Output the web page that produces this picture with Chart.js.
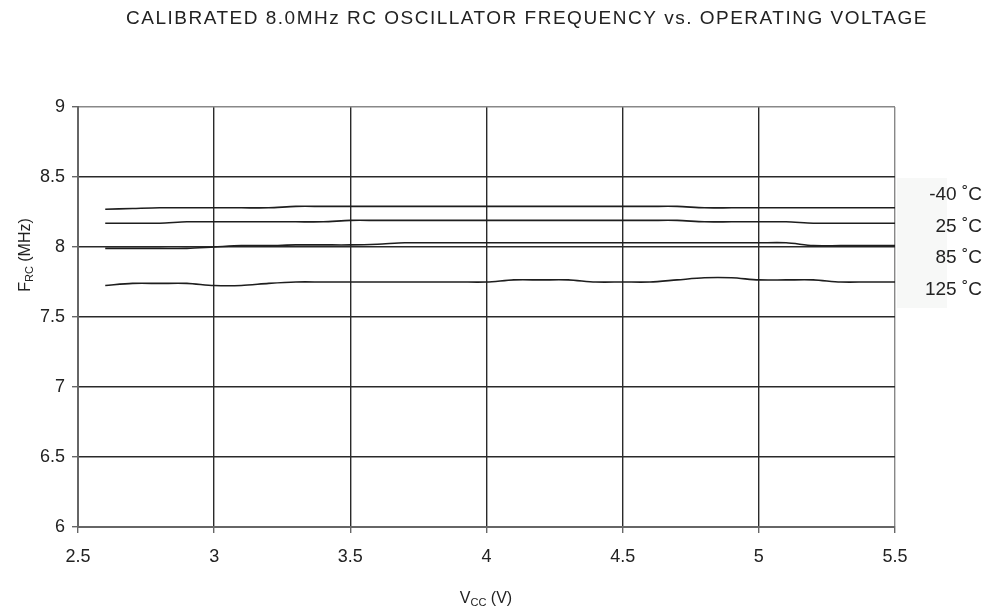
<!DOCTYPE html>
<html>
<head>
<meta charset="utf-8">
<script src="https://cdn.jsdelivr.net/npm/chart.js@4.4.0/dist/chart.umd.min.js"></script>
<style>
  html, body { margin: 0; padding: 0; background: #fff; }
  #wrap { width: 999px; height: 611px; position: relative; }
</style>
</head>
<body>
<div id="wrap"><canvas id="chart" width="999" height="611"></canvas></div>
<script>
// Supply voltage (V)
const voltages = [2.6, 2.7, 2.8, 2.9, 3.0, 3.1, 3.2, 3.3, 3.4, 3.5,
                  3.6, 3.7, 3.8, 3.9, 4.0, 4.1, 4.2, 4.3, 4.4, 4.5,
                  4.6, 4.7, 4.8, 4.9, 5.0, 5.1, 5.2, 5.3, 5.4, 5.5];

const tempLabels = ["-40 ˚C", "25 ˚C", "85 ˚C", "125 ˚C"];

// Frequency (MHz) per temperature
const freqM40 = [8.27, 8.275, 8.28, 8.28, 8.28, 8.28, 8.28, 8.29, 8.29, 8.29,
                 8.29, 8.29, 8.29, 8.29, 8.29, 8.29, 8.29, 8.29, 8.29, 8.29,
                 8.29, 8.29, 8.28, 8.28, 8.28, 8.28, 8.28, 8.28, 8.28, 8.28];
const freq25  = [8.17, 8.17, 8.17, 8.18, 8.18, 8.18, 8.18, 8.18, 8.18, 8.19,
                 8.19, 8.19, 8.19, 8.19, 8.19, 8.19, 8.19, 8.19, 8.19, 8.19,
                 8.19, 8.19, 8.18, 8.18, 8.18, 8.18, 8.17, 8.17, 8.17, 8.17];
const freq85  = [7.99, 7.99, 7.99, 7.99, 8.0, 8.01, 8.01, 8.015, 8.015, 8.015,
                 8.02, 8.03, 8.03, 8.03, 8.03, 8.03, 8.03, 8.03, 8.03, 8.03,
                 8.03, 8.03, 8.03, 8.03, 8.03, 8.03, 8.01, 8.01, 8.01, 8.01];
const freq125 = [7.725, 7.74, 7.74, 7.74, 7.725, 7.725, 7.74, 7.75, 7.75, 7.75,
                 7.75, 7.75, 7.75, 7.75, 7.75, 7.765, 7.765, 7.765, 7.75, 7.75,
                 7.75, 7.765, 7.78, 7.78, 7.765, 7.765, 7.765, 7.75, 7.75, 7.75];

const series = [freqM40, freq25, freq85, freq125];

const FONT = '"Liberation Sans", Arial, sans-serif';

// draw text pieces with subscripts, centred at (x, y)
function drawParts(ctx, parts, x, y) {
  let total = 0;
  parts.forEach(p => { ctx.font = p.size + 'px ' + FONT; total += ctx.measureText(p.t).width; });
  let cx = x - total / 2;
  ctx.textAlign = 'left';
  ctx.textBaseline = 'alphabetic';
  parts.forEach(p => {
    ctx.font = p.size + 'px ' + FONT;
    ctx.fillText(p.t, cx, y + p.dy);
    cx += ctx.measureText(p.t).width;
  });
}

const textPlugin = {
  id: 'texts',
  beforeDraw(chart) {
    const ctx = chart.ctx;
    ctx.save();
    ctx.fillStyle = '#f7f8f7';
    ctx.fillRect(897, 178, 50, 130);
    ctx.restore();
  },
  afterDraw(chart) {
    const ctx = chart.ctx;
    ctx.save();
    ctx.fillStyle = '#222';
    // title
    ctx.font = '19px ' + FONT;
    ctx.letterSpacing = '1.5px';
    ctx.textAlign = 'center';
    ctx.textBaseline = 'middle';
    ctx.fillText('CALIBRATED 8.0MHz RC OSCILLATOR FREQUENCY vs. OPERATING VOLTAGE', 527, 19);
    ctx.letterSpacing = '0px';

    // x axis title
    drawParts(ctx, [
      { t: 'V', size: 16, dy: 0 },
      { t: 'CC', size: 11, dy: 3 },
      { t: ' (V)', size: 16, dy: 0 }
    ], 486, 603);

    // y axis title
    ctx.save();
    ctx.translate(30, 255);
    ctx.rotate(-Math.PI / 2);
    drawParts(ctx, [
      { t: 'F', size: 16, dy: 0 },
      { t: 'RC', size: 11, dy: 3 },
      { t: ' (MHz)', size: 16, dy: 0 }
    ], 0, 0);
    ctx.restore();

    // series labels
    ctx.font = '19px ' + FONT;
    ctx.textAlign = 'right';
    ctx.textBaseline = 'middle';
    const ys = [195, 227, 258, 290];
    chart.data.datasets.forEach((ds, i) => ctx.fillText(ds.label, 982, ys[i]));
    ctx.restore();
  }
};

const gridCol = (edgeVal) => (c) => (c.tick && c.tick.value === edgeVal) ? '#888' : '#2a2a2a';
const fmt = (v) => String(+Number(v).toFixed(1));

new Chart(document.getElementById('chart'), {
  type: 'line',
  data: {
    datasets: series.map((vals, i) => ({
      label: tempLabels[i],
      data: voltages.map((v, j) => ({ x: v, y: vals[j] })),
      borderColor: '#1e1e1e',
      borderWidth: 1.6,
      pointRadius: 0,
      tension: 0.3,
      fill: false
    }))
  },
  options: {
    responsive: false,
    animation: false,
    devicePixelRatio: 1,
    layout: { padding: { left: 0, right: 104, top: 107, bottom: 0 } },
    plugins: { legend: { display: false }, tooltip: { enabled: false }, title: { display: false } },
    scales: {
      x: {
        type: 'linear',
        min: 2.5, max: 5.5,
        ticks: { stepSize: 0.5, color: '#222', font: { family: FONT, size: 18 }, padding: 13, maxRotation: 0, callback: fmt },
        grid: { color: gridCol(5.5), lineWidth: 1.4, tickLength: 6, tickColor: '#666' },
        border: { color: '#666', width: 2 },
        afterFit(s) { s.height = 84; }
      },
      y: {
        min: 6, max: 9,
        ticks: { stepSize: 0.5, color: '#222', font: { family: FONT, size: 18 }, padding: 7, callback: fmt },
        grid: { color: gridCol(9), lineWidth: 1.4, tickLength: 6, tickColor: '#666' },
        border: { color: '#666', width: 2 },
        afterFit(s) { s.width = 78; }
      }
    }
  },
  plugins: [textPlugin]
});
</script>
</body>
</html>
